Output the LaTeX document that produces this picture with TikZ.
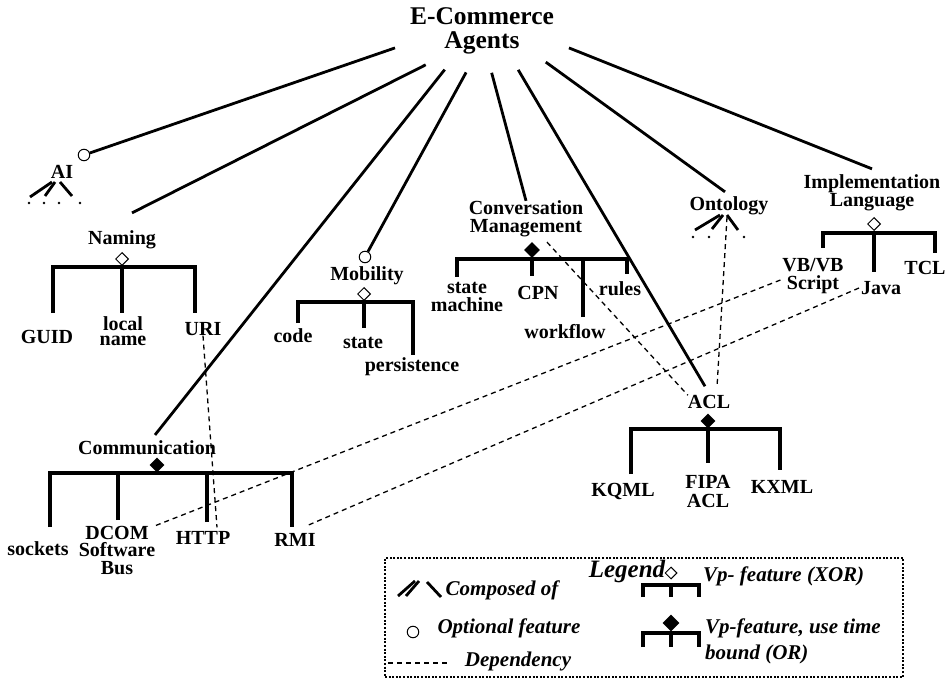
\documentclass[tikz,border=0pt]{standalone}
\usepackage{fontspec}
\setmainfont{Liberation Serif}
\usetikzlibrary{shapes.geometric}

\begin{document}
\begin{tikzpicture}[
    x=1pt, y=-1pt,
    feat/.style={
      inner sep=0pt,
      outer sep=0pt,
      align=center,
      font=\fontsize{20}{18}\selectfont\bfseries
    },
    legtext/.style={
      inner sep=0pt,
      align=left,
      font=\fontsize{21}{26}\selectfont\bfseries\itshape
    },
    link/.style={line width=2.8pt},
    bar/.style={line width=4.2pt},
    dep/.style={line width=1.3pt, dash pattern=on 5pt off 4pt},
    optc/.style={circle, draw, line width=1pt, fill=white, minimum size=11.5pt, inner sep=0pt},
    xorv/.style={diamond, draw, line width=1pt, fill=white, minimum width=13pt, minimum height=13pt, inner sep=0pt},
    orv/.style={diamond, fill=black, minimum width=16pt, minimum height=16pt, inner sep=0pt}
  ]

    \useasboundingbox (0,0) rectangle (951,679);

    % Root
    \node[feat, font=\fontsize{25.5}{23.5}\selectfont\bfseries, ellipse,
      inner xsep=-20pt, inner ysep=-10pt, minimum width=190pt, minimum height=84pt]
      (root) at (482,31) {E-Commerce\\Agents};

    % AI
    \node[feat] (ai) at (62,172) {AI};
    \node[optc] (ai-o) at (84,155) {};
    \draw[link] (52,182) -- (30,197);
    \draw[link] (55,182) -- (45,196);
    \draw[link] (60,182) -- (72,196);
    \foreach \x in {29,44,59,80} \fill (\x,203) circle (1.4pt);

    % Naming
    \node[feat] (naming) at (122,240) {Naming};
    \node[xorv] (nm-d) at (122,259) {};
    \coordinate (nm-bar) at (122,267);
    \node[feat] (guid) at (47,337) {GUID};
    \node[feat, font=\fontsize{20}{15}\selectfont\bfseries] (loc) at (123,331) {local\\name};
    \node[feat] (uri) at (203,329) {URI};
    \coordinate (guid-f) at (53,313);
    \coordinate (loc-f) at (122,313);
    \coordinate (uri-f) at (195,313);
    \draw[bar] (guid-f) |- (nm-bar) -| (uri-f);
    \draw[bar] (nm-bar) -- (loc-f);

    % Mobility
    \node[feat] (mob) at (367,276) {Mobility};
    \node[optc] (mob-o) at (365,257) {};
    \node[xorv] (mob-d) at (364,294) {};
    \coordinate (mob-bar) at (364,302);
    \node[feat] (code) at (293,336) {code};
    \node[feat] (state) at (363,343) {state};
    \node[feat] (pers) at (412,367) {persistence};
    \coordinate (code-f) at (298,323);
    \coordinate (state-f) at (364,328);
    \coordinate (pers-f) at (413,355);
    \draw[bar] (code-f) |- (mob-bar) -| (pers-f);
    \draw[bar] (mob-bar) -- (state-f);

    % Conversation Management
    \node[feat] (conv) at (526,219) {Conversation\\Management};
    \node[orv] (conv-d) at (532,250) {};
    \coordinate (conv-bar) at (532,259);
    \node[feat] (sm) at (467,297) {state\\machine};
    \node[feat] (cpn) at (538,293) {CPN};
    \node[feat] (wf) at (565,332) {workflow};
    \node[feat] (rules) at (620,289) {rules};
    \coordinate (sm-f) at (457,277);
    \coordinate (cpn-f) at (532,276);
    \coordinate (wf-f) at (583,317);
    \coordinate (rules-f) at (627,274);
    \draw[bar] (sm-f) |- (conv-bar) -| (rules-f);
    \draw[bar] (conv-bar) -- (cpn-f);
    \draw[bar] (wf-f) -- (wf-f |- conv-bar);

    % Ontology
    \node[feat] (onto) at (729,206) {Ontology};
    \draw[link] (720,215) -- (695,230);
    \draw[link] (723,215) -- (712,229);
    \draw[link] (727,215) -- (738,230);
    \foreach \x in {693,709,744} \fill (\x,237) circle (1.4pt);

    % ACL
    \node[feat] (acl) at (709,402) {ACL};
    \node[orv, minimum width=15pt, minimum height=15pt] (acl-d) at (708,421) {};
    \coordinate (acl-bar) at (708,429);
    \node[feat] (kqml) at (623,491) {KQML};
    \node[feat, font=\fontsize{20}{19}\selectfont\bfseries] (fipa) at (708,491) {FIPA\\ACL};
    \node[feat] (kxml) at (782,487) {KXML};
    \coordinate (kqml-f) at (631,474);
    \coordinate (fipa-f) at (708,463);
    \coordinate (kxml-f) at (780,470);
    \draw[bar] (kqml-f) |- (acl-bar) -| (kxml-f);
    \draw[bar] (acl-bar) -- (fipa-f);

    % Implementation Language
    \node[feat] (impl) at (872,193) {Implementation\\Language};
    \node[xorv] (impl-d) at (874,224) {};
    \coordinate (impl-bar) at (874,233);
    \node[feat] (vb) at (813,276) {VB/VB\\Script};
    \node[feat] (java) at (881,288) {Java};
    \node[feat] (tcl) at (925,268) {TCL};
    \coordinate (vb-f) at (823,248);
    \coordinate (java-f) at (874,272);
    \coordinate (tcl-f) at (935,253);
    \draw[bar] (vb-f) |- (impl-bar) -| (tcl-f);
    \draw[bar] (impl-bar) -- (java-f);

    % Communication
    \node[feat] (comm) at (147,448) {Communication};
    \node[orv, minimum width=15pt, minimum height=15pt] (comm-d) at (157,465) {};
    \coordinate (comm-bar) at (157,473);
    \node[feat] (sock) at (38,549) {sockets};
    \node[feat, font=\fontsize{20}{17.5}\selectfont\bfseries] (dcom) at (117,550) {DCOM\\Software\\Bus};
    \node[feat] (http) at (203,538) {HTTP};
    \node[feat] (rmi) at (295,540) {RMI};
    \coordinate (sock-f) at (50,527);
    \coordinate (dcom-f) at (118,520);
    \coordinate (http-f) at (207,522);
    \coordinate (rmi-f) at (292,527);
    \draw[bar] (sock-f) |- (comm-bar) -| (rmi-f);
    \draw[bar] (dcom-f) -- (dcom-f |- comm-bar);
    \draw[bar] (http-f) -- (http-f |- comm-bar);

    % Composed of
    \draw[link] (root.191) -- (ai-o);
    \draw[link] (root.211) -- ([xshift=10pt,yshift=18pt]naming.north);
    \draw[link] (root.226) -- ([xshift=8pt,yshift=6pt]comm.north);
    \draw[link] (root.249) -- (mob-o);
    \draw[link] (root.283) -- (conv.north);
    \draw[link] (root.313) -- ([xshift=-4pt,yshift=9pt]acl.north);
    \draw[link] (root.334) -- ([xshift=-4pt,yshift=5pt]onto.north);
    \draw[link] (root.349) -- ([yshift=6pt]impl.north);

    % Dependencies
    \draw[dep] (uri.south) -- ([xshift=14pt,yshift=4pt]http.north);
    \draw[dep] ([xshift=21pt,yshift=-5pt]conv.south) -- (acl.north west);
    \draw[dep] ([xshift=-2pt,yshift=-2pt]onto.south) -- ([xshift=8pt,yshift=8pt]acl.north);
    \draw[dep] ([xshift=-2pt,yshift=-4pt]vb.west) -- (dcom.north east);
    \draw[dep] ([xshift=-2pt]java.west) -- ([xshift=-8pt,yshift=8pt]rmi.north east);

    % Legend
    \node[draw, line width=2pt, dash pattern=on 2pt off 1.6pt, inner sep=0pt,
      minimum width=518pt, minimum height=119pt] (legbox) at (644,617.5) {};
    \node[legtext, font=\fontsize{25}{25}\selectfont\bfseries\itshape] (legtitle) at (627,571) {Legend};

    \draw[link] (398,596) -- (415,581);
    \draw[link] (406,596) -- (419,581);
    \draw[link] (427,582) -- (441,597);
    \node[legtext] (leg-comp) at (502,590) {Composed of};

    \node[optc] (leg-o) at (413,632) {};
    \node[legtext] (leg-opt) at (509,628) {Optional feature};

    \draw[dep] (388,663) -- (448,663);
    \node[legtext] (leg-dep) at (518,661) {Dependency};

    \node[xorv, fill=none, minimum width=12pt, minimum height=12pt] (leg-xd) at (671,573) {};
    \draw[bar] (643,597) |- (671,585) -| (699,597);
    \draw[bar] (671,585) -- (671,597);
    \node[legtext, anchor=west] (leg-xor) at (703,576) {Vp- feature (XOR)};

    \node[orv, minimum width=17pt, minimum height=17pt] (leg-od) at (671,623) {};
    \draw[bar] (643,647) |- (671,633) -| (699,647);
    \draw[bar] (671,633) -- (671,647);
    \node[legtext, anchor=west] (leg-or) at (705,641) {Vp-feature, use time\\bound (OR)};

\end{tikzpicture}
\end{document}
